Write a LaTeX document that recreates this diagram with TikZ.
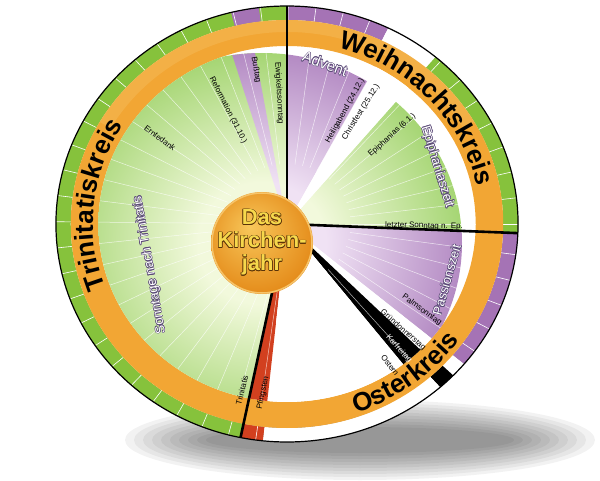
\documentclass[tikz,border=0pt]{standalone}
\usepackage{fontspec}
\setmainfont{Liberation Sans}
\usepackage{contour}
\contourlength{0.6pt}
\contournumber{8}
\usetikzlibrary{calc,decorations.text,positioning}

\definecolor{gin}{HTML}{F2F9DC}
\definecolor{gout}{HTML}{8FCB55}
\definecolor{pin}{HTML}{F0E2F4}
\definecolor{pout}{HTML}{A271B5}
\definecolor{bandg}{HTML}{86C23C}
\definecolor{bandp}{HTML}{A573B5}
\definecolor{ring}{HTML}{F2A634}
\definecolor{ringl}{HTML}{F6C46A}
\definecolor{pfred}{HTML}{D2401F}
\definecolor{hubin}{HTML}{F8C75A}
\definecolor{hubout}{HTML}{E58D1C}
\definecolor{hubtxt}{HTML}{F6D84C}
\definecolor{hubline}{HTML}{5A3308}
\definecolor{outl}{HTML}{5B4A78}

\pgfdeclareradialshading{greenwheel}{\pgfpoint{0bp}{0bp}}{color(0bp)=(gin); color(8bp)=(gin); color(30bp)=(gout); color(50bp)=(gout)}
\pgfdeclareradialshading{purplewheel}{\pgfpoint{0bp}{0bp}}{color(0bp)=(pin); color(8bp)=(pin); color(30bp)=(pout); color(50bp)=(pout)}
\pgfdeclareradialshading{hubshade}{\pgfpoint{-6bp}{8bp}}{color(0bp)=(hubin); color(28bp)=(hubout); color(50bp)=(hubout!85!black)}

% annular sector: start angle, end angle, inner r, outer r, style
\newcommand{\sect}[5]{%
  \path[#5] ($(C)+(#1:{1.06*#3} and #3)$) -- ($(C)+(#1:{1.06*#4} and #4)$)
    arc[start angle=#1,end angle=#2,x radius={1.06*#4},y radius=#4]
    -- ($(C)+(#2:{1.06*#3} and #3)$)
    arc[start angle=#2,end angle=#1,x radius={1.06*#3},y radius=#3] -- cycle;}

\tikzset{
  small/.style={font=\fontsize{8}{8}\selectfont, inner sep=0pt},
  wlabel/.style={font=\fontsize{13}{13}\selectfont, inner sep=0pt, text=white},
  kreis/.style={decorate,decoration={text along path,text align=center,
      text={|\fontsize{26}{26}\selectfont\bfseries|#1}}},
  divider/.style={line width=2.6pt,black}
}

\begin{document}
\begin{tikzpicture}[x=1pt,y=1pt]
\useasboundingbox (0,0) rectangle (600,480);
\coordinate (C) at (287,256);
\coordinate (H) at (262,237);

% shadow
\foreach \k in {0,...,9}
  \fill[black,opacity=0.05] (360,40) ellipse[x radius={235-9*\k},y radius={40-3*\k}];

% outer band
\sect{90}{258.4}{204}{218}{fill=bandg}
\sect{97}{104}{204}{218}{fill=bandp}
\sect{64}{90}{204}{218}{fill=bandp}
\sect{50}{64}{204}{218}{fill=white}
\sect{-2.4}{50}{204}{218}{fill=bandg}
\sect{-40}{-2.4}{204}{218}{fill=bandp}
\sect{-44}{-40}{204}{218}{fill=white}
\sect{-48.5}{-44}{204}{218}{fill=black}
\sect{-96}{-48.5}{204}{218}{fill=white}
\sect{-101.6}{-96}{204}{218}{fill=pfred}
\foreach \a in {0,6.9,...,355}
  \draw[white,line width=0.6pt] ($(C)+(\a:{1.06*204} and 204)$) -- ($(C)+(\a:{1.06*218} and 218)$);

% orange ring
\sect{0}{360}{178}{204}{fill=ring}
\sect{30}{150}{192}{204}{fill=ringl,opacity=0.35}

% inner sectors
\begin{scope}
  \clip (C) -- ($(C)+(90:{1.06*178} and 178)$)
    arc[start angle=90,end angle=258.4,x radius={1.06*178},y radius=178] -- cycle;
  \shade[shading=greenwheel] (H) ellipse[x radius=200,y radius=190];
\end{scope}
\begin{scope}
  \clip (C) -- ($(C)+(-2.4:{1.06*178} and 178)$)
    arc[start angle=-2.4,end angle=50,x radius={1.06*178},y radius=178] -- cycle;
  \shade[shading=greenwheel] (H) ellipse[x radius=200,y radius=190];
\end{scope}
\begin{scope}
  \clip (C) -- ($(C)+(62:{1.06*178} and 178)$)
    arc[start angle=62,end angle=90,x radius={1.06*178},y radius=178] -- cycle
    (C) -- ($(C)+(100:{1.06*178} and 178)$)
    arc[start angle=100,end angle=107,x radius={1.06*178},y radius=178] -- cycle
    (C) -- ($(C)+(-40:{1.06*178} and 178)$)
    arc[start angle=-40,end angle=-2.4,x radius={1.06*178},y radius=178] -- cycle;
  \shade[shading=purplewheel] (H) ellipse[x radius=200,y radius=190];
\end{scope}
\sect{50}{62}{1}{178}{fill=white}
\sect{-45}{-40}{1}{178}{fill=white}
\sect{-52}{-45}{1}{178}{fill=black}
\sect{-96}{-52}{1}{178}{fill=white}
\sect{-101.6}{-96}{1}{178}{fill=pfred}
\foreach \a in {0,6.9,...,355}
  \draw[white,opacity=0.7,line width=0.5pt] ($(C)+(\a:{1.06*60} and 60)$) -- ($(C)+(\a:{1.06*178} and 178)$);
\fill[white] (C) -- ($(C)+(-52:{1.06*100} and 100)$) -- ($(C)+(-96:{1.06*100} and 100)$) -- cycle;

% dividers and rim
\draw[divider] (C) -- ($(C)+(90:{1.06*218} and 218)$);
\draw[divider] (C) -- ($(C)+(-2.4:{1.06*218} and 218)$);
\draw[divider] (C) -- ($(C)+(-101.6:{1.06*218} and 218)$);
\draw[line width=1.2pt] (C) ellipse[x radius={1.06*218},y radius=218];

% hub
\shade[shading=hubshade] (H) circle[radius=51];
\draw[ringl,line width=1.5pt] (H) circle[radius=50];
\node[font=\fontsize{22}{24}\selectfont\bfseries,align=center,text=hubtxt] (hub) at (H)
  {\contour{hubline}{Das}\\[-1pt]\contour{hubline}{Kirchen-}\\[-1pt]\contour{hubline}{jahr}};

% circle names
\path[kreis=Weihnachtskreis] ($(C)+(82:{1.06*183} and 183)$) arc[start angle=82,end angle=4,x radius={1.06*183},y radius=183];
\path[kreis=Osterkreis] ($(C)+(-84:{1.06*200} and 200)$) arc[start angle=-84,end angle=-22,x radius={1.06*200},y radius=200];
\path[kreis=Trinitatiskreis] ($(C)+(222:{1.06*183} and 183)$) arc[start angle=222,end angle=126,x radius={1.06*183},y radius=183];

% period names
\node[wlabel,rotate=-20,font=\fontsize{15}{15}\selectfont] (advent) at (325,416) {\contour{outl}{Advent}};
\node[wlabel,rotate=-73] (epzeit) at (437,313) {\contour{outl}{Epiphaniaszeit}};
\node[wlabel,rotate=74] (passion) at (447,200) {\contour{outl}{Passionszeit}};
\node[wlabel,rotate=100] (sonntage) at (150,215) {\contour{outl}{Sonntage nach Trinitatis}};

% days
\node[small,rotate=-87] (ewig) at (279,387) {Ewigkeitssonntag};
\node[small,rotate=-80] (buss) at (256,410) {Bußtag};
\node[small,rotate=-63] (reform) at (228,370) {Reformation (31.10.)};
\node[small,rotate=-37] (ernte) at (160,342) {Erntedank};
\node[small,rotate=76] (trin) at (242,90) {Trinitatis};
\node[small,rotate=78] (pfing) at (263,87) {Pfingsten};
\node[small,rotate=61] (heilig) at (345,369) {Heiligabend (24.12.)};
\node[small,rotate=58] (christ) at (361,368) {Christfest (25.12.)};
\node[small,rotate=42] (epiph) at (392,345) {Epiphanias (6.1.)};
\node[small,rotate=-1] (letzter) at (424,254) {letzter Sonntag n. Ep.};
\node[small,rotate=-36] (palm) at (422,170) {Palmsonntag};
\node[small,rotate=-42] (gruen) at (403,150) {Gründonnerstag};
\node[small,rotate=-48,text=white] (kar) at (399,131) {Karfreitag};
\node[small,rotate=-53] (ostern) at (390,115) {Ostern};
\end{tikzpicture}
\end{document}
